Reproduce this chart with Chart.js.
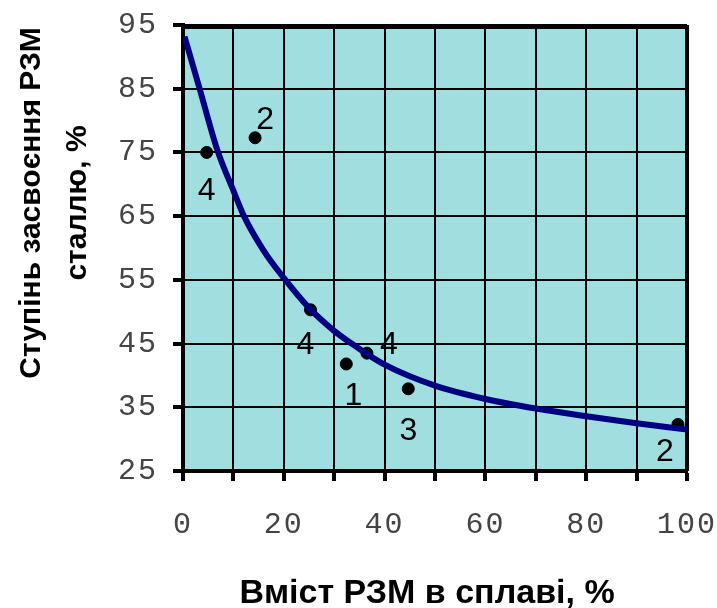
<!DOCTYPE html>
<html>
<head>
<meta charset="utf-8">
<script src="https://cdn.jsdelivr.net/npm/chart.js@4.4.1/dist/chart.umd.min.js"></script>
<style>
  html, body { margin: 0; padding: 0; background: #fff; }
  #wrap { width: 717px; height: 608px; }
</style>
</head>
<body>
<div id="wrap"><canvas id="chart"></canvas></div>
<script>
// fitted curve
const curveX = [0.3, 3.3, 6.8, 10, 12.1, 16, 20, 25, 30, 34.2, 40, 50, 60, 70, 80, 90, 100];
const curveY = [93.2, 85, 75.4, 69.0, 65, 59.6, 55.3, 50.6, 47.0, 44.6, 41.7, 38.4, 36.3, 34.8, 33.6, 32.5, 31.5];

// measured points and their alloy numbers
const pointX = [4.7, 14.3, 25.3, 32.4, 36.5, 44.7, 98.2];
const pointY = [75.0, 77.3, 50.3, 41.8, 43.5, 37.9, 32.3];
const pointLabels = ['4', '2', '4', '1', '4', '3', '2'];

const yTicks = [25, 35, 45, 55, 65, 75, 85, 95];
const xTicks = [0, 20, 40, 60, 80, 100];

const yTitle = ['Ступінь засвоєння РЗМ', 'сталлю, %'];
const xTitle = 'Вміст РЗМ в сплаві, %';

// where each number sits relative to its dot (px)
const labelOffsets = [[0, 39], [10, -18], [-5, 35], [7, 32], [22, -8], [0, 42], [-13, 28]];

const plotBg = '#a0dee0';

const plotFrame = {
    id: 'plotFrame',
    beforeDraw(chart) {
        let a = chart.chartArea;
        let ctx = chart.ctx;
        ctx.save();
        ctx.fillStyle = plotBg;
        ctx.fillRect(a.left, a.top, a.right - a.left, a.bottom - a.top);
        ctx.restore();
        ctx.letterSpacing = '2px';
    },
    beforeDatasetsDraw(chart) {
        let a = chart.chartArea;
        let ctx = chart.ctx;
        ctx.letterSpacing = '0px';
        ctx.save();
        ctx.strokeStyle = '#000';
        ctx.lineWidth = 4;
        ctx.beginPath();
        ctx.moveTo(a.left, a.top + 2);
        ctx.lineTo(a.right, a.top + 2);
        ctx.lineTo(a.right, a.bottom);
        ctx.stroke();
        ctx.restore();
    },
    afterDraw(chart) {
        let ctx = chart.ctx;
        ctx.save();
        ctx.fillStyle = '#000';

        // numbers next to the dots
        let meta = chart.getDatasetMeta(1);
        ctx.font = '32px "Liberation Sans", Arial, sans-serif';
        ctx.textAlign = 'center';
        ctx.textBaseline = 'middle';
        meta.data.forEach((pt, i) => {
            let off = labelOffsets[i];
            ctx.fillText(pointLabels[i], pt.x + off[0], pt.y + off[1]);
        });

        // axis titles
        ctx.textAlign = 'center';
        ctx.textBaseline = 'alphabetic';
        ctx.font = 'bold 34px "Liberation Sans", Arial, sans-serif';
        ctx.fillText(xTitle, 427, chart.height - 5);

        ctx.font = 'bold 30px "Liberation Sans", Arial, sans-serif';
        ctx.translate(0, 203);
        ctx.rotate(-Math.PI / 2);
        ctx.fillText(yTitle[0], 0, 40);
        ctx.fillText(yTitle[1], 0, 86);
        ctx.restore();
    }
};

const tickFont = { family: '"Liberation Mono", "Courier New", monospace', size: 30 };
const noPad = (s) => { s.paddingLeft = 0; s.paddingRight = 0; s.paddingTop = 0; s.paddingBottom = 0; };

new Chart(document.getElementById('chart'), {
    type: 'line',
    data: {
        datasets: [
            {
                type: 'line',
                data: curveX.map((x, i) => ({ x: x, y: curveY[i] })),
                borderColor: '#000080',
                borderWidth: 6,
                pointRadius: 0,
                cubicInterpolationMode: 'monotone',
                fill: false
            },
            {
                type: 'scatter',
                data: pointX.map((x, i) => ({ x: x, y: pointY[i] })),
                backgroundColor: '#000',
                borderColor: '#000',
                pointRadius: 6,
                showLine: false
            }
        ]
    },
    options: {
        responsive: true,
        maintainAspectRatio: false,
        animation: false,
        layout: { autoPadding: false, padding: { top: 25, right: 30, left: 0, bottom: 0 } },
        plugins: { legend: { display: false }, tooltip: { enabled: false } },
        scales: {
            x: {
                type: 'linear',
                min: 0,
                max: 100,
                afterFit: (s) => { s.height = 137; noPad(s); },
                afterBuildTicks: (s) => { s.ticks = Array.from({ length: 11 }, (_, i) => ({ value: i * 10 })); },
                ticks: {
                    autoSkip: false,
                    maxRotation: 0,
                    padding: 26,
                    color: '#444',
                    font: tickFont,
                    callback: (v) => xTicks.includes(v) ? String(v) : ''
                },
                grid: { color: '#000', lineWidth: 2, tickLength: 10, tickWidth: 4, tickColor: '#000' },
                border: { color: '#000', width: 4 }
            },
            y: {
                type: 'linear',
                min: 25,
                max: 95,
                afterFit: (s) => { s.width = 183; noPad(s); },
                afterBuildTicks: (s) => { s.ticks = yTicks.map(v => ({ value: v })); },
                ticks: {
                    autoSkip: false,
                    padding: 15,
                    color: '#444',
                    font: tickFont
                },
                grid: { color: '#000', lineWidth: 2, tickLength: 10, tickWidth: 4, tickColor: '#000' },
                border: { color: '#000', width: 4 }
            }
        }
    },
    plugins: [plotFrame]
});
</script>
</body>
</html>
